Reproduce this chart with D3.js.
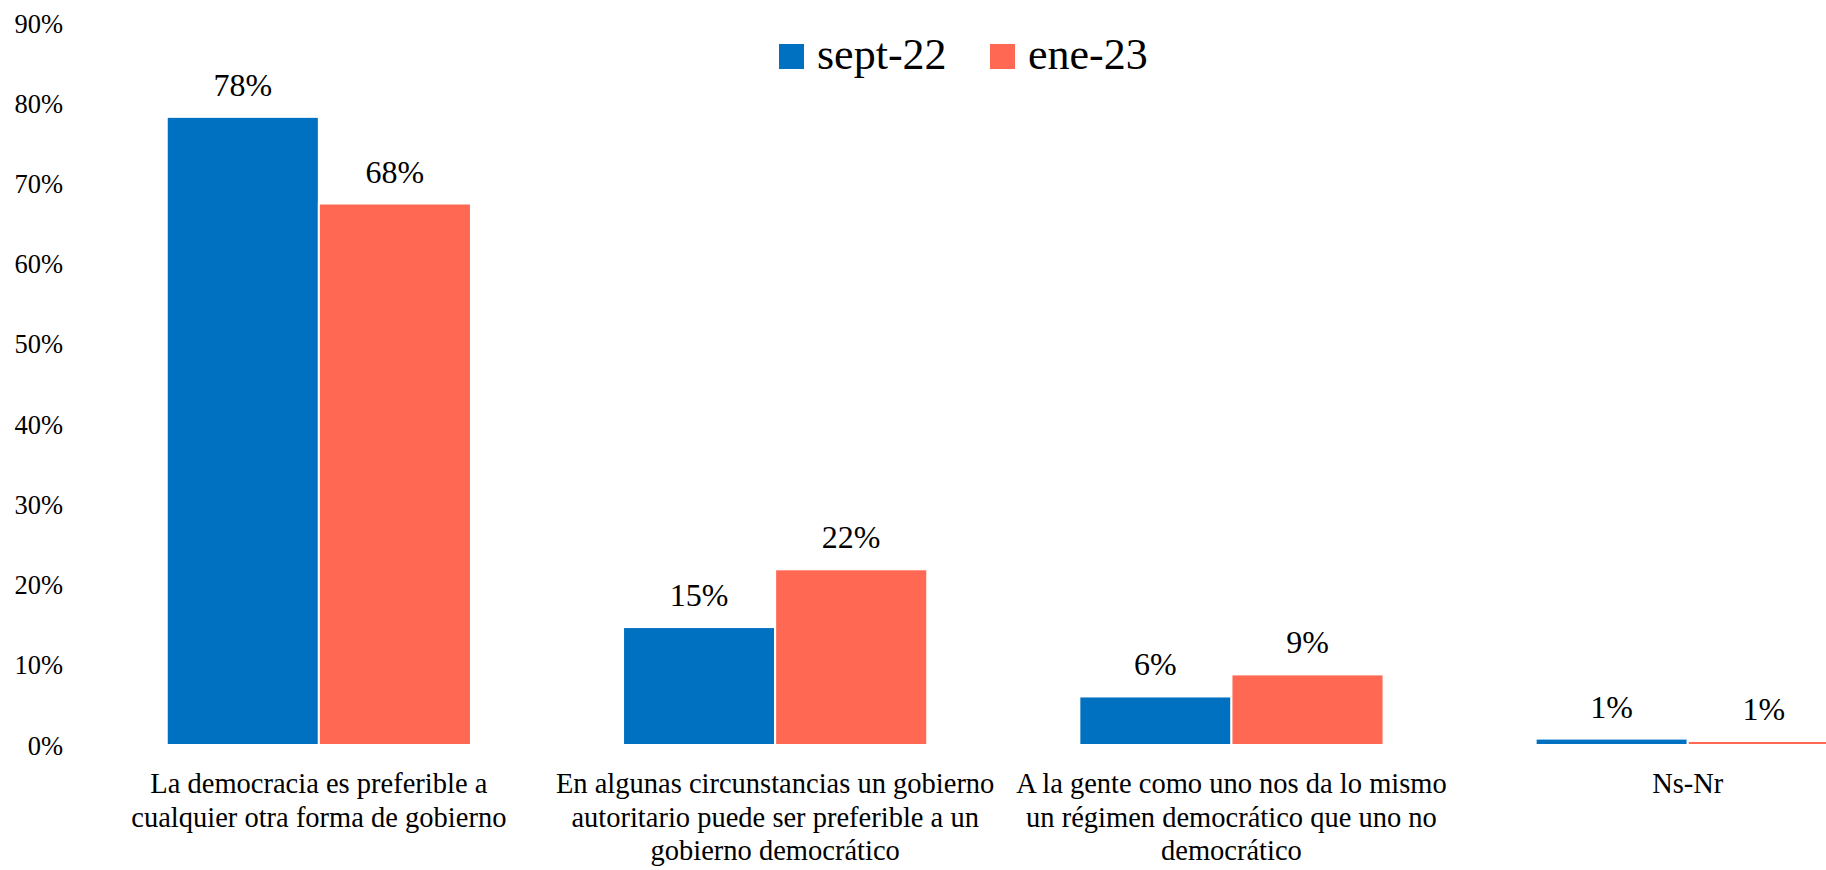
<!DOCTYPE html>
<html>
<head>
<meta charset="utf-8">
<script src="https://cdn.jsdelivr.net/npm/d3@7"></script>
</head>
<body style="margin:0">
<svg id="chart" width="1826" height="870"></svg>
<script>
// ---- data ----
const categories = [
  "La democracia es preferible a\ncualquier otra forma de gobierno",
  "En algunas circunstancias un gobierno\nautoritario puede ser preferible a un\ngobierno democrático",
  "A la gente como uno nos da lo mismo\nun régimen democrático que uno no\ndemocrático",
  "Ns-Nr"
];
const seriesNames = ["sept-22", "ene-23"];
const sept22 = [78.3, 14.7, 6.05, 0.8];
const ene23 = [67.5, 21.9, 8.8, 0.5];
const yTicks = [0, 10, 20, 30, 40, 50, 60, 70, 80, 90];
const colors = ["#0070C0", "#FF6853"];
const FONT = "Liberation Serif";

// ---- layout ----
const svg = d3.select("#chart");
const x0 = d3.scaleBand().domain(d3.range(categories.length))
  .range([90.7, 1915.9]).paddingInner(1 / 3).paddingOuter(1 / 6);
const x1 = d3.scaleBand().domain(seriesNames).range([0, x0.bandwidth()]).padding(0);
const y = d3.scaleLinear().domain([0, 90]).range([745, 23]);

// y axis (labels only)
const yAxis = d3.axisLeft(y).tickValues(yTicks).tickFormat(d => d + "%").tickSize(0).tickPadding(0);
const gy = svg.append("g").attr("transform", "translate(63,0)").call(yAxis);
gy.attr("font-family", null).attr("font-size", null);
gy.select(".domain").remove();
gy.selectAll("text").attr("font-size", 26.5).attr("fill", "#000")
  .style("font-family", FONT).attr("dy", "0.34em");

// bars
const rows = categories.map((c, i) => ({ i, vals: [sept22[i], ene23[i]] }));
const groups = svg.append("g").selectAll("g").data(rows).join("g")
  .attr("transform", d => `translate(${x0(d.i)},0)`);

groups.selectAll("rect").data(d => d.vals.map((v, k) => ({ v, k })))
  .join("rect")
  .attr("x", d => x1(seriesNames[d.k]))
  .attr("y", d => y(d.v))
  .attr("width", x1.bandwidth())
  .attr("height", d => y(0) - y(d.v))
  .attr("fill", d => colors[d.k])
  .attr("stroke", "#fff").attr("stroke-width", 2);

groups.selectAll("text.val").data(d => d.vals.map((v, k) => ({ v, k })))
  .join("text").attr("class", "val")
  .attr("x", d => x1(seriesNames[d.k]) + x1.bandwidth() / 2)
  .attr("y", d => y(d.v) - 21)
  .attr("text-anchor", "middle")
  .style("font-family", FONT)
  .attr("font-size", 32)
  .attr("fill", "#000")
  .text(d => Math.round(d.v) + "%");

// category labels
const cat = svg.append("g").selectAll("text").data(categories).join("text")
  .attr("x", (d, i) => x0(i) + x0.bandwidth() / 2)
  .attr("y", 793)
  .attr("text-anchor", "middle")
  .style("font-family", FONT)
  .attr("font-size", 28.5)
  .attr("fill", "#000");
cat.each(function (d) {
  const t = d3.select(this);
  d.split("\n").forEach((line, j) => {
    t.append("tspan").attr("x", t.attr("x")).attr("dy", j === 0 ? 0 : 33.5).text(line);
  });
});

// legend
const legendX = [779, 990];
const leg = svg.append("g").selectAll("g").data(seriesNames).join("g")
  .attr("transform", (d, i) => `translate(${legendX[i]},44)`);
leg.append("rect").attr("width", 25).attr("height", 25)
  .attr("fill", (d, i) => colors[i]);
leg.append("text").attr("x", 38).attr("y", 25)
  .style("font-family", FONT)
  .attr("font-size", 44).attr("fill", "#000").text(d => d);
</script>
</body>
</html>
